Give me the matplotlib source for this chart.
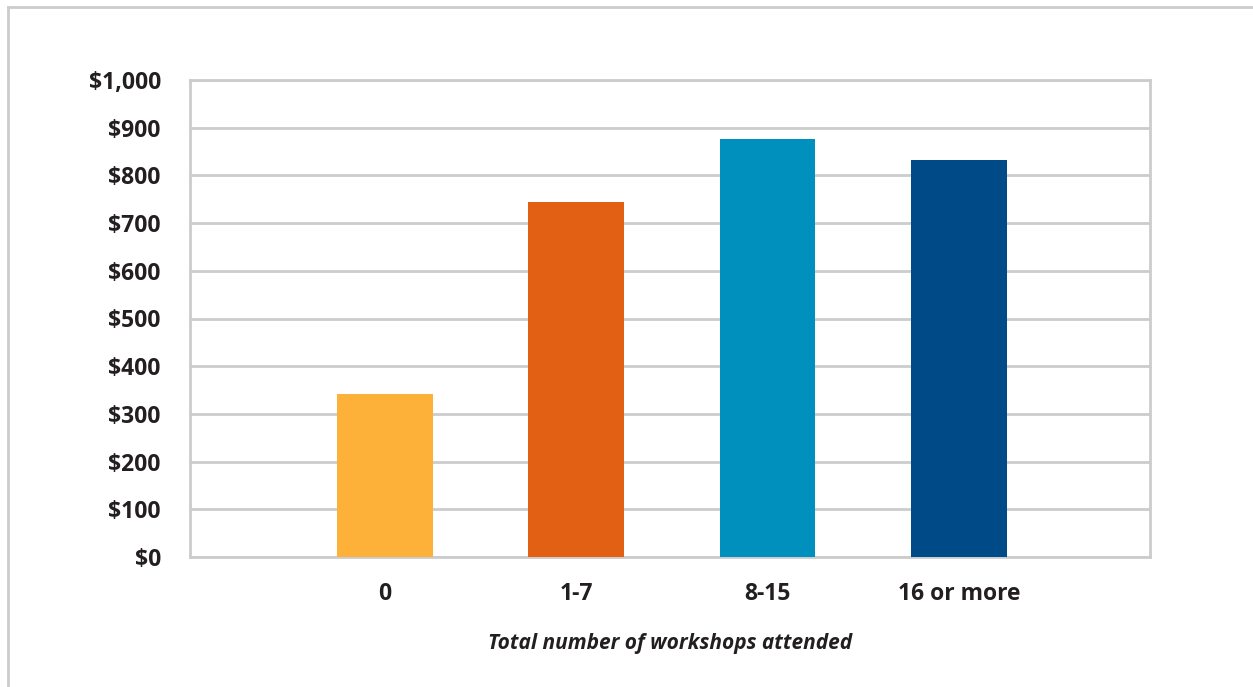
import matplotlib
matplotlib.use('Agg')
import matplotlib.pyplot as plt
from matplotlib.lines import Line2D
from matplotlib.ticker import FuncFormatter

categories = ['0', '1-7', '8-15', '16 or more']
values = [342, 744, 876, 832]
bar_colors = ['#FDB138', '#E26014', '#0090BE', '#004B87']

plt.rcParams['font.family'] = ['Open Sans', 'DejaVu Sans']
text_color = '#231F20'
grid_color = '#CCCCCC'

fig = plt.figure(figsize=(12.53, 6.87), dpi=100)
ax = fig.add_axes([190/1253, 130/687, 960/1253, 477/687])

positions = [1, 2, 3, 4]
ax.bar(positions, values, width=0.5, color=bar_colors, zorder=3)

ax.set_xlim(-0.02, 5.0)
ax.set_ylim(0, 1000)
ax.set_yticks(range(0, 1001, 100))
ax.yaxis.set_major_formatter(FuncFormatter(lambda v, p: '${:,.0f}'.format(v)))
ax.set_xticks(positions)
ax.set_xticklabels(categories)

ax.grid(axis='y', color=grid_color, linewidth=2, zorder=0)
for s in ax.spines.values():
    s.set_color(grid_color)
    s.set_linewidth(2)
ax.tick_params(length=0, labelsize=16.5, labelcolor=text_color)
ax.tick_params(axis='y', pad=21)
ax.tick_params(axis='x', pad=18)
for lbl in ax.get_xticklabels() + ax.get_yticklabels():
    lbl.set_fontweight('bold')

ax.set_xlabel('Total number of workshops attended', fontsize=15, fontweight='bold',
              fontstyle='italic', color=text_color, labelpad=19.5)

# outer frame (top and left edges visible)
fig.add_artist(Line2D([8/1253, 1.0], [1 - 7/687, 1 - 7/687], transform=fig.transFigure,
                      color=grid_color, linewidth=2))
fig.add_artist(Line2D([8/1253, 8/1253], [0, 1 - 7/687], transform=fig.transFigure,
                      color=grid_color, linewidth=2))

fig.savefig('out.png', dpi=100, facecolor='white')
